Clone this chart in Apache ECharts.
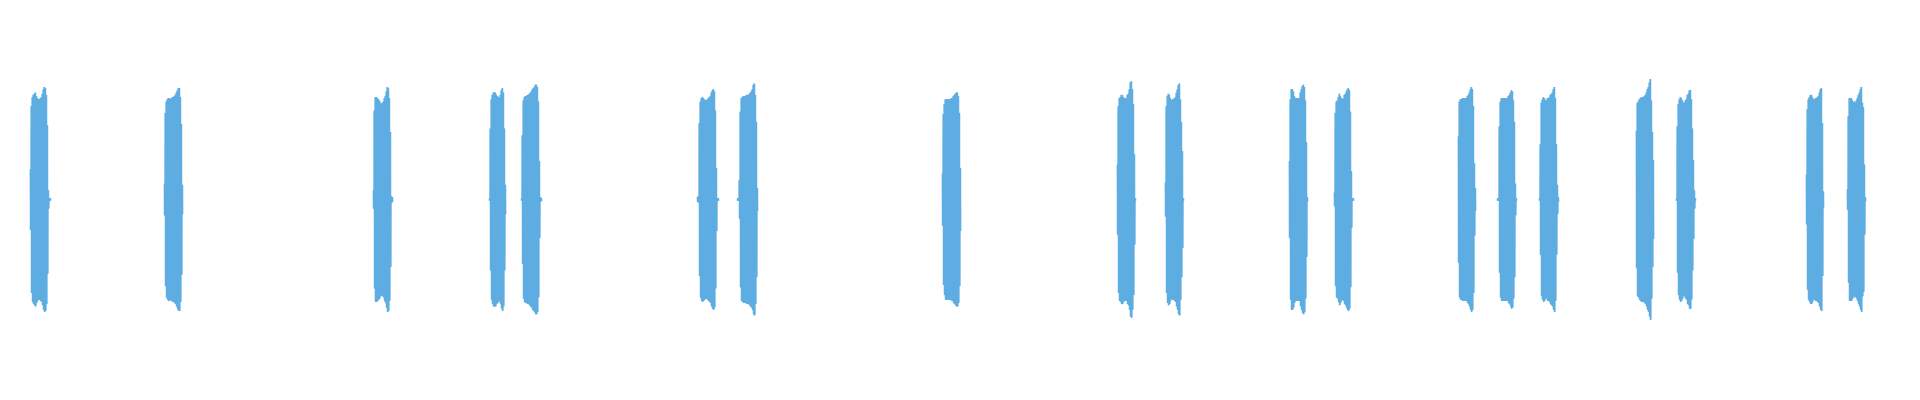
<!DOCTYPE html>
<html>
<head>
<meta charset="utf-8">
<script src="https://cdn.jsdelivr.net/npm/echarts@6/dist/echarts.min.js"></script>
<style>
html,body{margin:0;padding:0;background:#fff;}
#chart{width:1920px;height:400px;}
</style>
</head>
<body>
<div id="chart"></div>
<script>
// Start time (ms) of each tone burst
const burstStartMs = [150, 820, 1865, 2445, 2605, 3485, 3685, 4710, 5585, 5825, 6445, 6670, 7290, 7485, 7695, 8180, 8380, 9030, 9235];
// Width (ms) of one envelope window
const windowMs = 5;
// Peak amplitude of each burst, one value per window
const envA = [0.27,0.83,0.91,0.93,0.94,0.95,0.92,0.90,0.89,0.89,0.90,0.91,0.94,0.98,1.0,0.99,0.93,0.66,0.08,0.01,0.01];
const envB = [0.14,0.77,0.87,0.89,0.90,0.90,0.89,0.90,0.91,0.91,0.92,0.93,0.95,0.97,0.99,0.99,0.91,0.67,0.13];
const envC = [0.08,0.79,0.91,0.91,0.90,0.89,0.88,0.86,0.85,0.86,0.87,0.90,0.92,0.96,1.0,0.99,0.90,0.60,0.03,0.02];
const envD = [0.01,0.63,0.89,0.93,0.95,0.95,0.95,0.93,0.92,0.91,0.90,0.93,0.97,0.99,0.95,0.63,0.13];
const envE = [0.01,0.57,0.88,0.91,0.92,0.92,0.93,0.93,0.94,0.95,0.96,0.98,0.99,1.0,1.02,1.02,1.0,0.87,0.34,0.02,0.01];
const envF = [0.02,0.03,0.68,0.87,0.90,0.91,0.90,0.89,0.88,0.88,0.89,0.90,0.91,0.92,0.95,0.97,0.98,0.96,0.79,0.28,0.01,0.01];
const envG = [0.01,0.01,0.17,0.78,0.90,0.91,0.92,0.92,0.92,0.93,0.93,0.93,0.94,0.95,0.96,0.98,1.02,1.03,0.93,0.69,0.10];
const envH = [0.23,0.76,0.85,0.89,0.89,0.89,0.89,0.89,0.89,0.90,0.90,0.92,0.93,0.94,0.95,0.95,0.92,0.77,0.28];
const envI = [0.31,0.83,0.90,0.91,0.93,0.93,0.91,0.90,0.90,0.90,0.93,0.94,0.98,1.04,1.05,0.98,0.85,0.40,0.01];
const envJ = [0.15,0.83,0.92,0.94,0.93,0.90,0.88,0.89,0.89,0.90,0.91,0.95,0.98,1.02,1.03,0.89,0.69,0.43,0.01];
const envK = [0.34,0.89,0.98,0.98,0.96,0.92,0.90,0.90,0.90,0.90,0.90,0.95,0.98,1.01,1.02,1.0,0.88,0.51,0.02];
const envL = [0.06,0.77,0.87,0.88,0.91,0.94,0.92,0.90,0.89,0.90,0.93,0.94,0.96,0.98,0.99,0.97,0.78,0.25,0.01,0.01];
const envM = [0.56,0.87,0.89,0.89,0.90,0.90,0.90,0.90,0.90,0.92,0.93,0.95,0.98,1.0,0.98,0.83,0.32,0.10];
const envN = [0.01,0.01,0.65,0.87,0.90,0.90,0.90,0.90,0.90,0.90,0.90,0.92,0.93,0.95,0.97,0.96,0.88,0.69,0.14,0.01];
const envO = [0.01,0.49,0.86,0.89,0.91,0.90,0.88,0.88,0.90,0.90,0.91,0.93,0.94,0.95,0.98,1.0,0.90,0.49,0.13,0.02];
const envP = [0.61,0.86,0.87,0.89,0.90,0.91,0.91,0.91,0.92,0.93,0.95,0.98,1.0,1.04,1.07,0.88,0.60,0.35];
const envQ = [0.01,0.65,0.85,0.89,0.91,0.90,0.88,0.86,0.86,0.88,0.89,0.93,0.94,0.97,0.97,0.89,0.63,0.35,0.08,0.01];
const envR = [0.22,0.80,0.89,0.91,0.93,0.93,0.91,0.89,0.89,0.90,0.90,0.91,0.92,0.95,0.98,0.99,0.68,0.07];
const envS = [0.09,0.74,0.90,0.90,0.90,0.88,0.86,0.87,0.86,0.88,0.90,0.93,0.95,0.98,1.0,0.86,0.82,0.31,0.02];
const envelopes = [envA,envB,envC,envD,envE,envF,envG,envH,envI,envJ,envK,envL,envM,envN,envO,envP,envQ,envR,envS];

// Each window is drawn as an oscillation swinging between +peak and -peak
const swingsPerWindow = 4;
const series = envelopes.map(function (env, b) {
  const pts = [];
  env.forEach(function (a, i) {
    for (let k = 0; k < swingsPerWindow; k++) {
      const t = burstStartMs[b] + (i + (k + 0.5) / swingsPerWindow) * windowMs;
      pts.push([t, (k % 2 === 0 ? a : -a)]);
    }
  });
  return {
    type: 'line',
    data: pts,
    showSymbol: false,
    symbol: 'none',
    silent: true,
    lineStyle: { color: '#5DADE2', width: 1 },
    emphasis: { disabled: true }
  };
});

const chart = echarts.init(document.getElementById('chart'), null, { renderer: 'canvas' });
chart.setOption({
  animation: false,
  backgroundColor: '#ffffff',
  grid: { left: 0, right: 0, top: 59, bottom: 60 },
  xAxis: { type: 'value', min: 0, max: 9600, show: false },
  yAxis: { type: 'value', min: -1.25, max: 1.25, show: false },
  series: series
});
</script>
</body>
</html>
